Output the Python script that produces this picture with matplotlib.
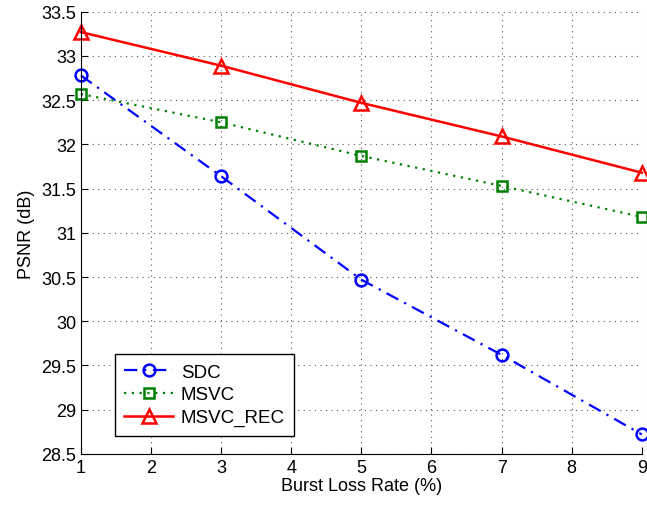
import numpy as np
import matplotlib.pyplot as plt

plt.rcParams['font.family'] = ['Liberation Sans', 'DejaVu Sans']

loss_rate = [1, 3, 5, 7, 9]
sdc = [32.78, 31.64, 30.47, 29.62, 28.72]
msvc = [32.57, 32.25, 31.87, 31.53, 31.18]
msvc_rec = [33.27, 32.89, 32.47, 32.09, 31.68]

fig = plt.figure(figsize=(6.47, 5.10), dpi=100)
ax = fig.add_axes([0.125, 0.108, 0.867, 0.867])

ax.plot(loss_rate, sdc, color='blue', linestyle=(0, (6, 3, 1, 3)), linewidth=1.6,
        marker='o', markersize=8.5, markerfacecolor='none', markeredgewidth=1.8,
        label='SDC', clip_on=False)
ax.plot(loss_rate, msvc, color='#008000', linestyle=(0, (1, 2.5)), linewidth=1.6,
        marker='s', markersize=7, markerfacecolor='none', markeredgewidth=1.8,
        label='MSVC', clip_on=False)
ax.plot(loss_rate, msvc_rec, color='red', linestyle='-', linewidth=1.8,
        marker='^', markersize=9.5, markerfacecolor='none', markeredgewidth=1.8,
        label='MSVC_REC', clip_on=False)

ax.set_xlim(1, 9)
ax.set_ylim(28.5, 33.5)
ax.set_xticks(np.arange(1, 10))
ax.set_yticks(np.arange(28.5, 33.51, 0.5))
ax.set_yticklabels(['28.5', '29', '29.5', '30', '30.5', '31', '31.5', '32', '32.5', '33', '33.5'])
ax.tick_params(direction='in', labelsize=13, length=5)

ax.spines['top'].set_visible(False)
ax.spines['right'].set_visible(False)
ax.grid(True, linestyle=(0, (1, 4)), color='#555555', linewidth=0.8)

ax.set_xlabel('Burst Loss Rate (%)', fontsize=13, labelpad=1)
ax.set_ylabel('PSNR (dB)', fontsize=13, labelpad=4)

leg = ax.legend(loc='lower left', bbox_to_anchor=(0.061, 0.041), borderaxespad=0,
                fontsize=13.5, fancybox=False, framealpha=1, edgecolor='black',
                handlelength=2.6, handletextpad=0.4, borderpad=0.5,
                labelspacing=0.3)
leg.get_frame().set_linewidth(1.0)

fig.savefig('out.png', dpi=100)
